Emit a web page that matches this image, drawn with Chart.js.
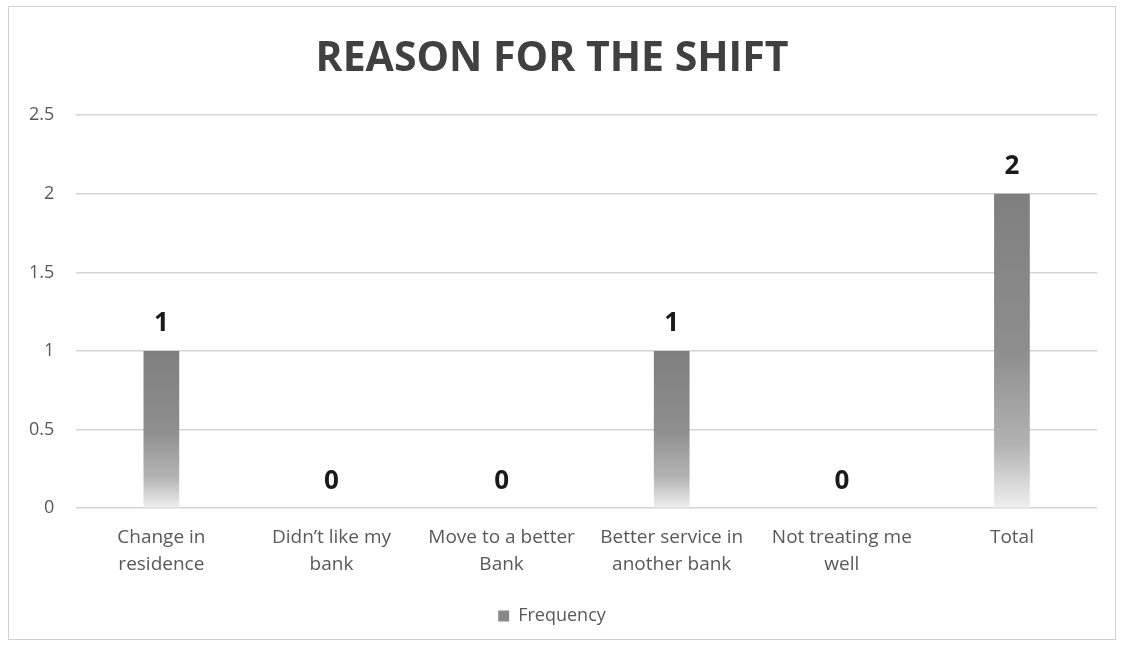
<!DOCTYPE html>
<html>
<head>
<meta charset="utf-8">
<script src="https://cdn.jsdelivr.net/npm/chart.js@4"></script>
<style>
  html, body { margin: 0; padding: 0; background: #fff; }
  #wrap { position: relative; width: 1125px; height: 647px; }
  #frame { position: absolute; left: 8px; top: 6px; width: 1108px; height: 634px; border: 1px solid #d0d0d0; box-sizing: border-box; }
  canvas { position: absolute; left: 0; top: 0; }
</style>
</head>
<body>
<div id="wrap">
  <div id="frame"></div>
  <canvas id="chart" width="1125" height="647"></canvas>
</div>
<script>
const categories = [
  ["Change in", "residence"],
  ["Didn\u2019t like my", "bank"],
  ["Move to a better", "Bank"],
  ["Better service in", "another bank"],
  ["Not treating me", "well"],
  "Total"
];
const frequency = [1, 0, 0, 1, 0, 2];
const yTicks = [0, 0.5, 1, 1.5, 2, 2.5];

const font = "'Open Sans', Lato, sans-serif";

const barFill = function(context) {
  const chart = context.chart;
  const { ctx, chartArea, scales } = chart;
  if (!chartArea || !scales.y) return "#8a8a8a";
  const v = context.raw || 0;
  const top = scales.y.getPixelForValue(v);
  const bottom = scales.y.getPixelForValue(0);
  if (bottom - top < 1) return "#8a8a8a";
  const g = ctx.createLinearGradient(0, top, 0, bottom);
  g.addColorStop(0, "#7f7f7f");
  g.addColorStop(0.5, "#8e8e8e");
  g.addColorStop(0.8, "#b3b3b3");
  g.addColorStop(1, "#f0f0f0");
  return g;
};

const valueLabels = {
  id: "valueLabels",
  afterDatasetsDraw(chart) {
    const ctx = chart.ctx;
    const meta = chart.getDatasetMeta(0);
    ctx.save();
    ctx.font = "bold 26px " + font;
    ctx.fillStyle = "#1a1a1a";
    ctx.textAlign = "center";
    ctx.textBaseline = "bottom";
    meta.data.forEach((bar, i) => {
      ctx.fillText(String(frequency[i]), bar.x, bar.y - 14);
    });
    ctx.restore();
  }
};

new Chart(document.getElementById("chart"), {
  type: "bar",
  data: {
    labels: categories,
    datasets: [
      {
        label: "Frequency",
        data: frequency,
        backgroundColor: barFill,
        borderWidth: 0,
        barPercentage: 0.21,
        categoryPercentage: 1
      }
    ]
  },
  options: {
    responsive: false,
    animation: false,
    layout: {
      padding: { left: 7, right: 28, top: 20, bottom: 12 }
    },
    plugins: {
      title: {
        display: true,
        text: "REASON FOR THE SHIFT",
        color: "#404040",
        font: { family: font, size: 41, weight: "bold" },
        padding: { top: 15, bottom: 31 }
      },
      legend: {
        position: "bottom",
        labels: {
          color: "#595959",
          font: { family: font, size: 18 },
          boxWidth: 11,
          boxHeight: 11,
          padding: 21,
          generateLabels: () => [{
            text: "Frequency",
            fillStyle: "#888888",
            strokeStyle: "#888888",
            lineWidth: 0,
            fontColor: "#595959",
            datasetIndex: 0
          }]
        }
      },
      tooltip: { enabled: false }
    },
    scales: {
      x: {
        grid: { display: false },
        border: { display: false },
        ticks: {
          color: "#595959",
          font: { family: font, size: 19, lineHeight: 1.47 },
          maxRotation: 0,
          autoSkip: false,
          padding: 7
        }
      },
      y: {
        min: 0,
        max: 2.5,
        afterBuildTicks: axis => {
          axis.ticks = yTicks.map(v => ({ value: v }));
        },
        grid: { color: "#d4d4d4", lineWidth: 1.5, drawTicks: false },
        border: { display: false },
        ticks: {
          color: "#595959",
          font: { family: font, size: 18 },
          padding: 22,
          callback: v => String(v)
        }
      }
    }
  },
  plugins: [valueLabels]
});
</script>
</body>
</html>
